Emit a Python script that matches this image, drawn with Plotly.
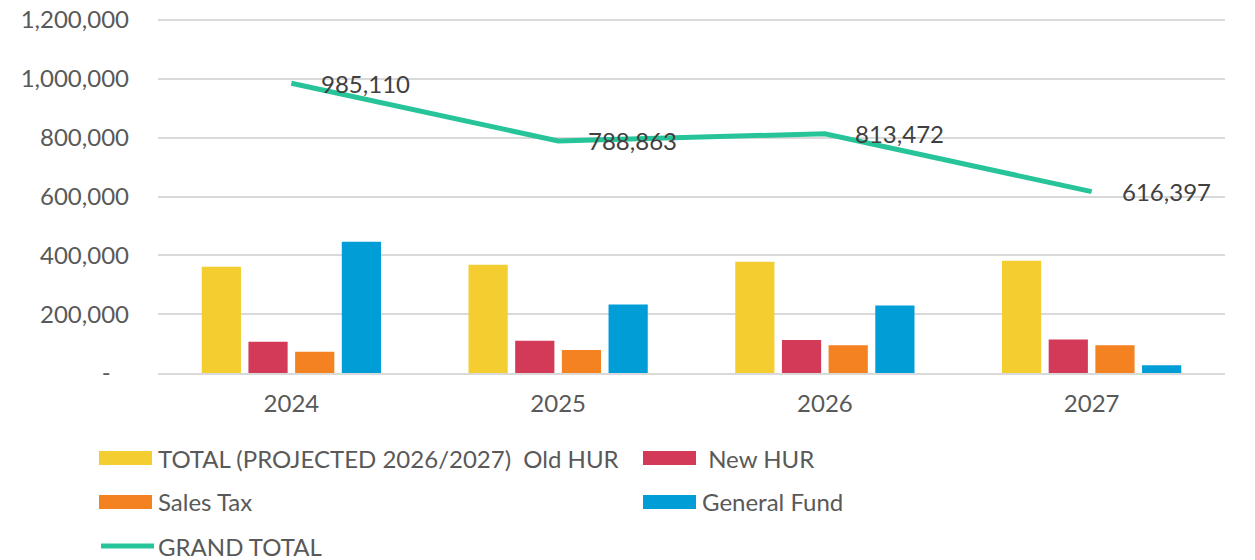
import plotly.graph_objects as go

years = ["2024", "2025", "2026", "2027"]
old_hur = [361000, 368000, 378000, 382000]
new_hur = [106000, 110000, 112000, 114000]
sales_tax = [72000, 78000, 94000, 94000]
general_fund = [446110, 232863, 229472, 26397]
grand_total = [985110, 788863, 813472, 616397]

bar_names = ["TOTAL (PROJECTED 2026/2027)  Old HUR", " New HUR", "Sales Tax", "General Fund"]
line_name = "GRAND TOTAL"
bar_colors = ["#F4CE30", "#D33A58", "#F58220", "#009DD6"]
line_color = "#27C499"

y_tickvals = [0, 200000, 400000, 600000, 800000, 1000000, 1200000]
y_ticktext = ["-\u00a0\u00a0\u00a0", "200,000", "400,000", "600,000", "800,000", "1,000,000", "1,200,000"]

FONT = "Lato"
FS = 24
TXT = "#595959"

W, H = 1255, 560
PL, PR, PT, PB = 158, 1225, 12, 373  # plot area in page pixels
Y_TOP_PIX = 20  # page pixel of the 1,200,000 gridline
y_max = 1200000 * (PB - PT) / (PB - Y_TOP_PIX)
ML, MR, MT, MB = PL, W - PR, PT, H - PB

fig = go.Figure()
for vals, name, col in zip([old_hur, new_hur, sales_tax, general_fund], bar_names, bar_colors):
    fig.add_trace(go.Bar(x=years, y=vals, name=name, marker=dict(color=col, line=dict(width=0)),
                         showlegend=False))

fig.add_trace(go.Scatter(x=years, y=grand_total, name=line_name, mode="lines",
                         line=dict(color=line_color, width=5), showlegend=False))

annotations = []
for i, v in enumerate(grand_total):
    annotations.append(dict(x=i, y=v, xref="x", yref="y", text=f"{v:,}", showarrow=False,
                            xanchor="left", yanchor="middle", xshift=28,
                            font=dict(family=FONT, size=FS, color="#404040")))

def px(x):
    return (x - PL) / (PR - PL)
def py(y):
    return (PB - y) / (PB - PT)

shapes = []
legend_items = [
    (bar_names[0], bar_colors[0], 99, 458, "bar"),
    (bar_names[1], bar_colors[1], 643, 458, "bar"),
    (bar_names[2], bar_colors[2], 99, 502, "bar"),
    (bar_names[3], bar_colors[3], 643, 502, "bar"),
    (line_name, line_color, 99, 546, "line"),
]
for name, col, x0, yc, kind in legend_items:
    if kind == "bar":
        shapes.append(dict(type="rect", xref="paper", yref="paper", x0=px(x0), x1=px(x0 + 53),
                           y0=py(yc + 7), y1=py(yc - 7), fillcolor=col, line=dict(width=0)))
    else:
        shapes.append(dict(type="line", xref="paper", yref="paper", x0=px(x0 + 2), x1=px(x0 + 55),
                           y0=py(yc), y1=py(yc), line=dict(color=col, width=5)))
    annotations.append(dict(x=px(x0 + 57), y=py(yc), xref="paper", yref="paper", text=name,
                            showarrow=False, xanchor="left", yanchor="middle",
                            font=dict(family=FONT, size=FS, color=TXT)))

fig.update_layout(
    width=W, height=H,
    margin=dict(l=ML, r=MR, t=MT, b=MB, autoexpand=False),
    paper_bgcolor="white", plot_bgcolor="white",
    barmode="group", bargap=0.30, bargroupgap=0.16,
    font=dict(family=FONT, size=FS, color=TXT),
    shapes=shapes, annotations=annotations,
    showlegend=False,
)
fig.update_xaxes(type="category", range=[-0.5, 3.5], autorange=False, showgrid=False,
                 showline=True, linecolor="#D9D9D9", linewidth=2,
                 ticks="", ticklabelstandoff=8, tickfont=dict(family=FONT, size=FS, color=TXT))
fig.update_yaxes(range=[0, y_max], autorange=False, tickvals=y_tickvals, ticktext=y_ticktext,
                 showgrid=True, gridcolor="#D9D9D9", gridwidth=2, zeroline=False, showline=False,
                 ticks="", ticklabelstandoff=28, ticklabeloverflow="allow",
                 tickfont=dict(family=FONT, size=FS, color=TXT))

fig.write_html("out.html", config={"displayModeBar": False},
               post_script="document.body.style.margin='0px';document.body.style.overflow='hidden';")
